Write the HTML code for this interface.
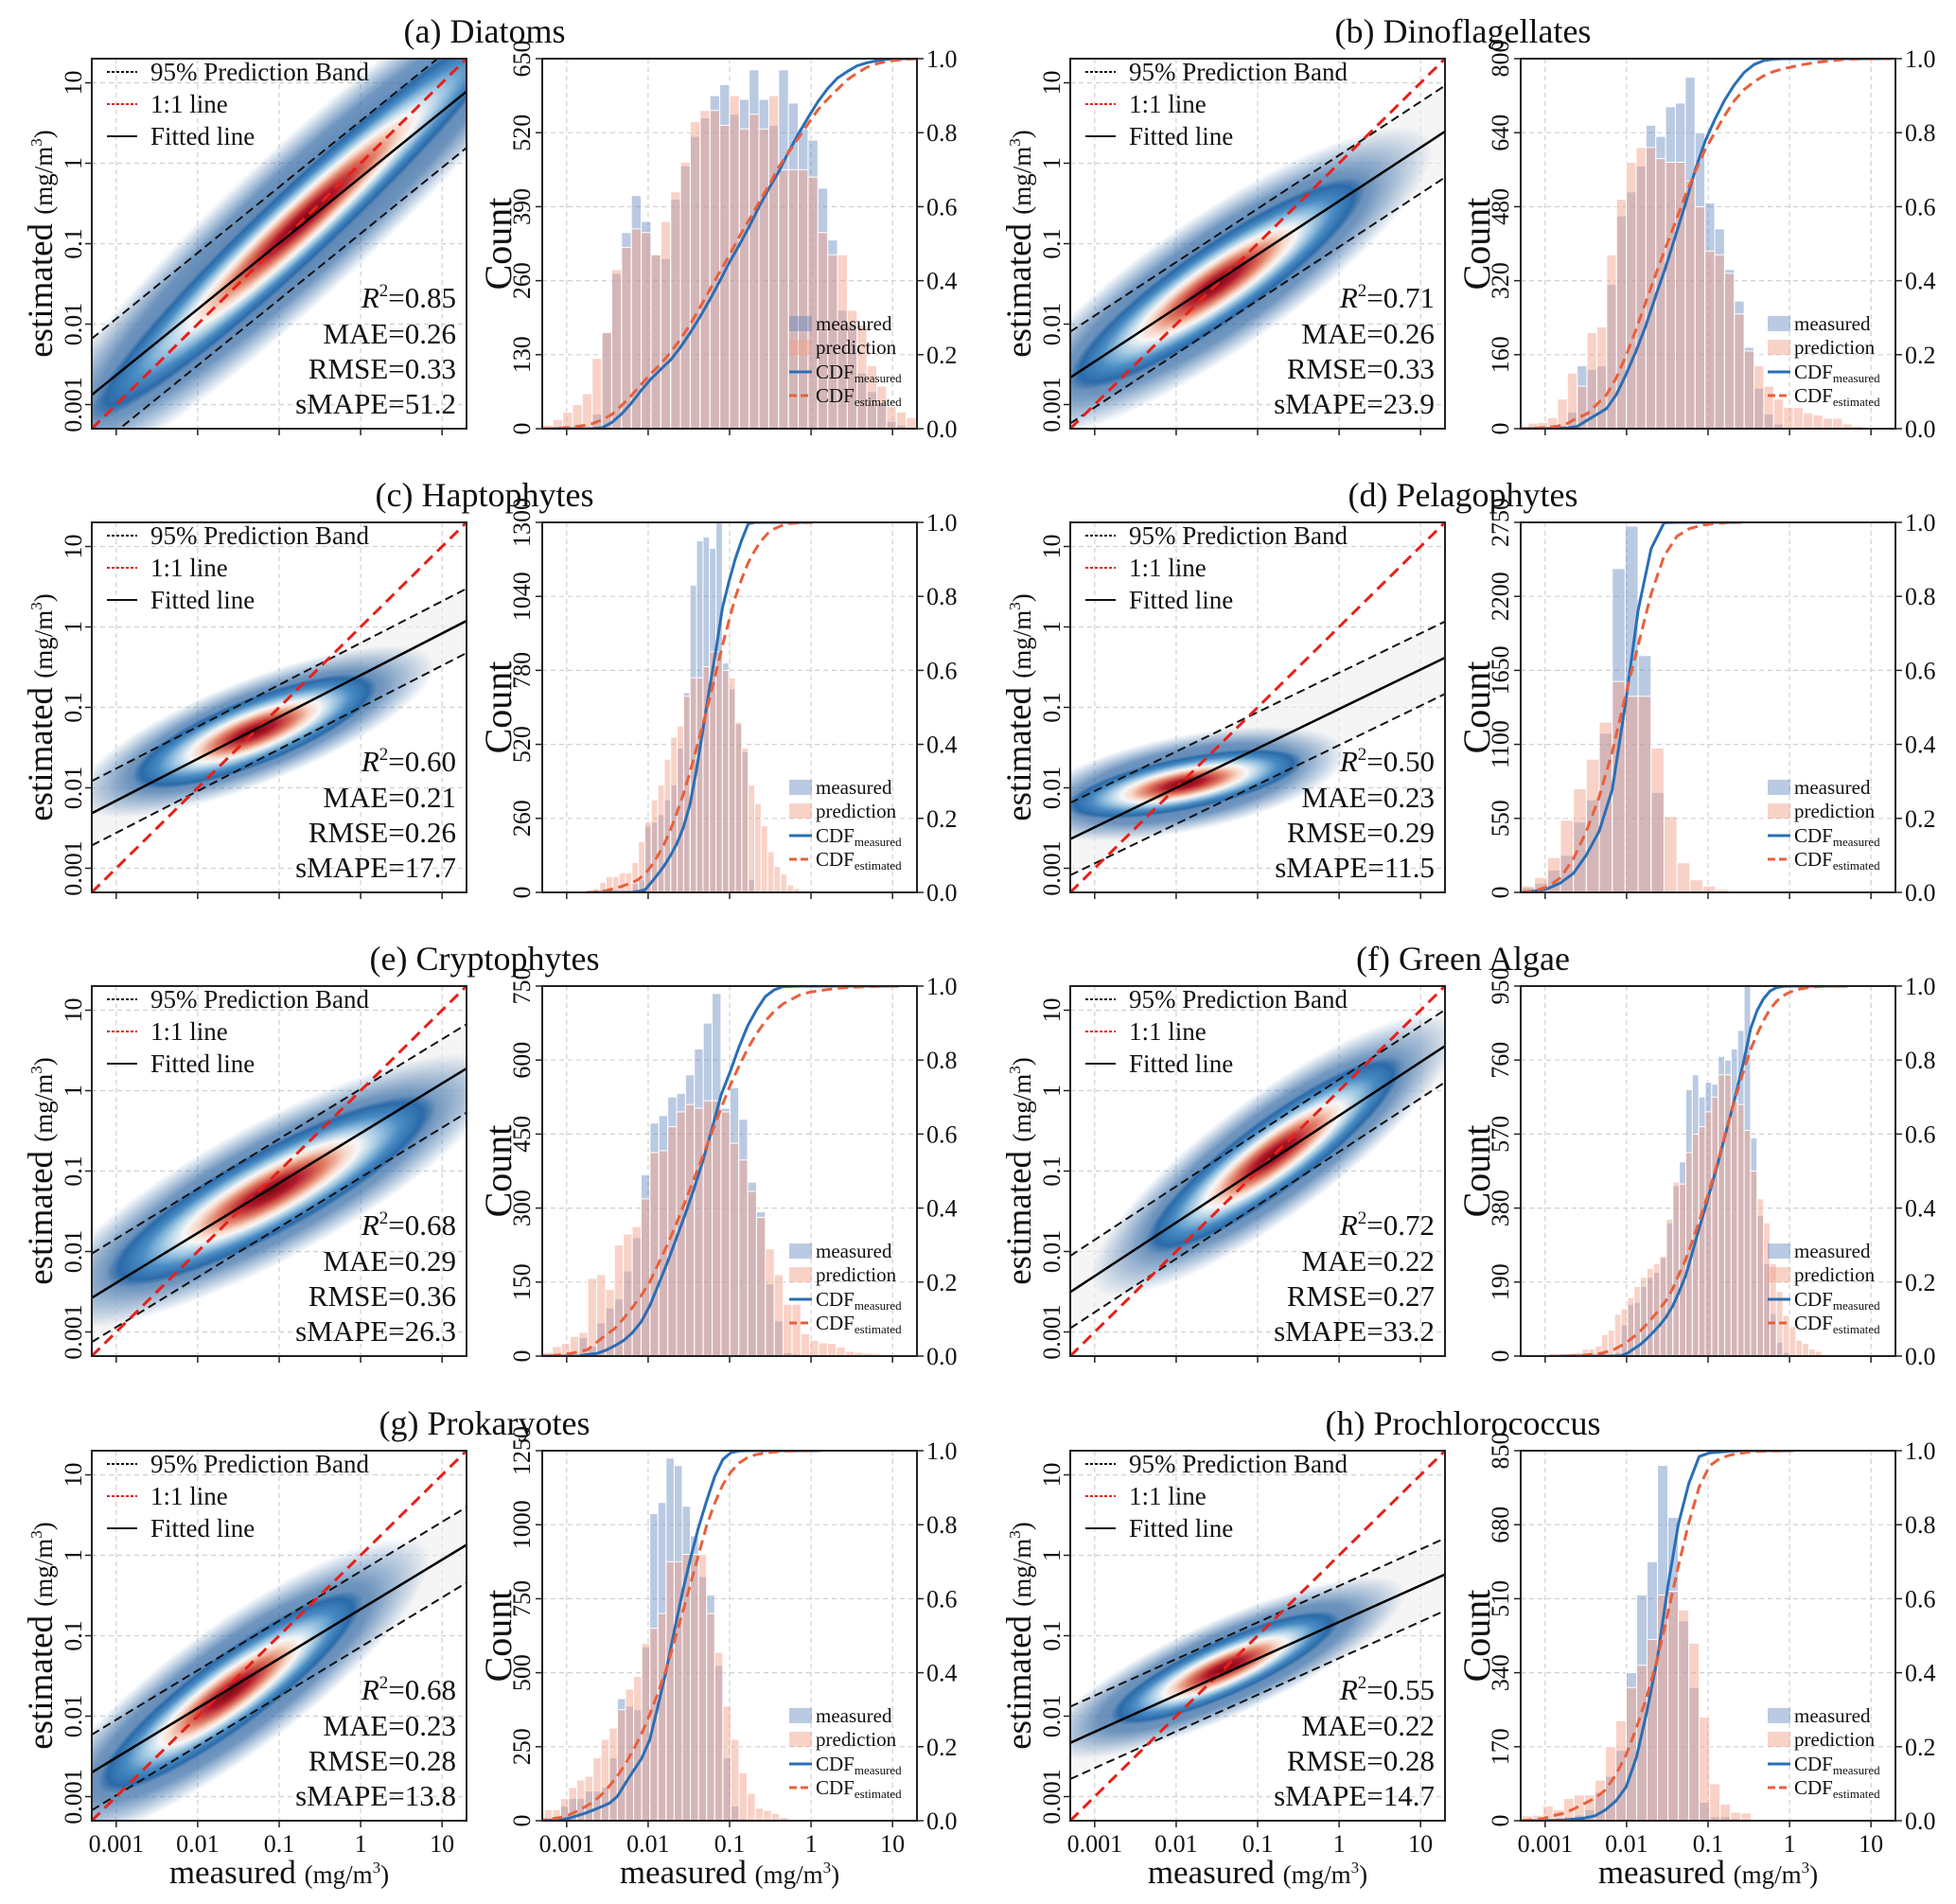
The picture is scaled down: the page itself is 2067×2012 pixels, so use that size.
<!DOCTYPE html>
<html><head><meta charset="utf-8"><title>Phytoplankton estimation figure</title>
<style>
html,body{margin:0;padding:0;background:#fff;}
svg{display:block;font-family:"Liberation Serif","Times New Roman",serif;}
</style></head>
<body>
<svg id="fig" width="2067" height="2012" viewBox="0 0 2067 2012" xmlns="http://www.w3.org/2000/svg">
<defs>
<radialGradient id="coreGrad" cx="0.5" cy="0.5" r="0.5">
<stop offset="0" stop-color="#7a0a0f"/>
<stop offset="0.16" stop-color="#b2182b"/>
<stop offset="0.32" stop-color="#e07a62"/>
<stop offset="0.45" stop-color="#f8d8c8"/>
<stop offset="0.53" stop-color="#f7f7f7"/>
<stop offset="0.64" stop-color="#a8cde5"/>
<stop offset="0.78" stop-color="#4a8cc4"/>
<stop offset="0.92" stop-color="#2a6aa9"/>
<stop offset="1" stop-color="#2a6aa9" stop-opacity="0"/>
</radialGradient>
<radialGradient id="outerGrad" cx="0.5" cy="0.5" r="0.5">
<stop offset="0" stop-color="#2e639e" stop-opacity="0.95"/>
<stop offset="0.7" stop-color="#336aa5" stop-opacity="0.7"/>
<stop offset="1" stop-color="#3a72ac" stop-opacity="0"/>
</radialGradient>
</defs>
</svg>
<script>
// ---------- data ----------
const panelTitles = ["(a) Diatoms","(b) Dinoflagellates","(c) Haptophytes","(d) Pelagophytes","(e) Cryptophytes","(f) Green Algae","(g) Prokaryotes","(h) Prochlorococcus"];
const r2Values = ["0.85","0.71","0.60","0.50","0.68","0.72","0.68","0.55"];
const maeValues = ["0.26","0.26","0.21","0.23","0.29","0.22","0.23","0.22"];
const rmseValues = ["0.33","0.33","0.26","0.29","0.36","0.27","0.28","0.28"];
const smapeValues = ["51.2","23.9","17.7","11.5","26.3","33.2","13.8","14.7"];
const fitSlopes = [0.82,0.665,0.52,0.49,0.62,0.665,0.615,0.455];
const fitIntercepts = [-0.174,-0.47,-0.60,-1.02,-0.53,-0.31,-0.67,-0.83];
const bandHalfWidths = [0.70,0.57,0.40,0.45,0.55,0.45,0.47,0.45];
const cloudCenterX = [-0.7,-1.5,-1.3,-1.9,-1.1,-0.8,-1.6,-1.4];
const cloudCenterY = [-0.7,-1.5,-1.3,-1.95,-1.25,-0.8,-1.7,-1.4];
const cloudSlope = [0.95,0.7,0.4,0.2,0.55,0.75,0.75,0.45];
const cloudMajor = [2.6,1.8,1.5,1.45,2.0,1.55,1.6,1.4];
const cloudMinor = [0.45,0.48,0.42,0.33,0.52,0.45,0.45,0.35];
const outerMajor = [3.6,2.6,2.2,2.0,2.8,2.2,2.4,2.2];
const outerMinor = [0.9,0.85,0.65,0.6,0.85,0.75,0.8,0.6];
const scatterTicks = [0.001,0.01,0.1,1,10];
const scatterTickLabels = ["0.001","0.01","0.1","1","10"];
const histYMax = [650,800,1300,2750,750,950,1250,850];
const histYStep = [130,160,260,550,150,190,250,170];
const cdfTickLabels = ["0.0","0.2","0.4","0.6","0.8","1.0"];
const binCenter0 = [-3.23,-3.27,-2.714,-3.21,-3.34,-2.903,-3.324,-3.221];
const binWidths = [0.1205,0.1206,0.0793,0.159,0.109,0.0795,0.0996,0.128];
// bar heights as fraction of each panel's count axis max
const measuredA = [0,0,0,0,0,.04,.26,.42,.53,.63,.56,.47,.46,.62,.71,.79,.84,.90,.93,.85,.89,.97,.89,.82,.97,.88,.81,.78,.65,.51,.32,.28,.15,.10,.07,.02,.01,0];
const predictedA = [.01,.025,.045,.065,.095,.19,.26,.43,.49,.54,.53,.47,.56,.64,.72,.83,.86,.86,.82,.90,.81,.85,.81,.90,.70,.70,.70,.68,.53,.47,.47,.32,.28,.17,.115,.06,.045,.03];
const measuredB = [0,0,.002,.005,.01,.045,.17,.16,.17,.39,.575,.64,.71,.82,.79,.87,.88,.95,.80,.61,.54,.43,.345,.22,.11,.04,.013,0,0,0,0,0,0,0,0,0,0,0];
const predictedB = [.005,.015,.017,.03,.08,.15,.115,.26,.275,.47,.62,.72,.76,.76,.73,.72,.72,.67,.60,.48,.47,.42,.31,.21,.17,.115,.08,.058,.057,.043,.037,.028,.028,.013,.007,.004,.002,0];
const measuredC = [0,0,0,0,0,0,0,.024,.034,.18,.19,.21,.25,.29,.39,.54,.83,.95,.96,.93,1.0,.62,.55,.455,.38,.035,0,0,0,0,0,0,0,0,0];
const predictedC = [.005,.01,.027,.043,.043,.053,.053,.081,.137,.19,.25,.29,.36,.42,.45,.53,.58,.58,.61,.65,.65,.60,.58,.46,.39,.29,.24,.18,.11,.07,.05,.02,.01,.005,.005];
const measuredD = [.013,.025,.06,.10,.19,.25,.43,.875,.99,.64,.27,.004,0,0,0,0,0];
const predictedD = [.017,.04,.094,.195,.28,.36,.46,.57,.53,.53,.39,.205,.08,.034,.017,.008,.003];
const measuredE = [0,0,0,0,0,.05,.026,.09,.13,.155,.23,.32,.49,.63,.65,.70,.71,.76,.83,.90,.98,.67,.725,.64,.47,.39,.195,.095,.009,.006,0,0,0,0,0,0,0,0,0,0,0];
const predictedE = [.005,.01,.026,.034,.053,.064,.21,.22,.18,.30,.33,.35,.425,.55,.555,.62,.66,.68,.67,.69,.69,.66,.575,.53,.445,.375,.29,.22,.14,.14,.06,.043,.036,.034,.024,.013,.01,.008,.007,.005,.003];
const measuredF = [0,0,0,0,0,0,0,0,0,0,.01,.085,.14,.145,.188,.213,.226,.266,.36,.46,.525,.72,.76,.70,.74,.735,.81,.80,.83,.88,1.0,.59,.38,.25,.115,.038,.01,0,0,0,0,0,0,0,0,0];
const predictedF = [.001,.003,.004,.006,.01,.019,.019,.027,.058,.07,.113,.128,.158,.188,.213,.237,.25,.27,.37,.47,.465,.55,.60,.62,.66,.70,.76,.76,.69,.68,.61,.50,.425,.36,.25,.175,.11,.08,.043,.034,.019,.013,.004,.003,.002,.002];
const measuredG = [.005,.007,.01,.04,.06,.06,.08,.08,.09,.17,.33,.31,.30,.47,.83,.86,.98,.96,.85,.77,.66,.61,.42,.17,.04,.006,0,0,0,0,0,0,0,0,0];
const predictedG = [.02,.03,.03,.06,.09,.11,.12,.17,.22,.25,.30,.356,.39,.48,.52,.56,.70,.70,.72,.72,.72,.56,.455,.31,.22,.13,.074,.034,.028,.02,.009,.004,.002,.002,.001];
const measuredH = [0,0,.005,.005,.01,.015,.03,.077,.12,.19,.40,.61,.70,.96,.82,.54,.36,.05,.011,.011,.006,0,0,0,0,0];
const predictedH = [.013,.015,.04,.03,.06,.07,.07,.11,.20,.27,.36,.42,.49,.61,.62,.57,.48,.28,.10,.045,.023,.021,.004,.003,.003,.002];
const measuredSets = [measuredA,measuredB,measuredC,measuredD,measuredE,measuredF,measuredG,measuredH];
const predictedSets = [predictedA,predictedB,predictedC,predictedD,predictedE,predictedF,predictedG,predictedH];

// ---------- layout ----------
const NS = "http://www.w3.org/2000/svg";
const svg = document.getElementById("fig");
const colX = [0,1034];
const rowY = [62,552,1042,1533];
const SC_L = 97, SC_W = 396, HI_L = 573, HI_W = 396, PH = 391;
const LMIN = -3.3, LMAX = 1.3;

function mk(tag, attrs, parent) {
  const e = document.createElementNS(NS, tag);
  for (const k in attrs) e.setAttribute(k, attrs[k]);
  (parent || svg).appendChild(e);
  return e;
}
function txt(str, attrs, parent) {
  const e = mk("text", attrs, parent);
  e.textContent = str;
  return e;
}

for (let p = 0; p < 8; p++) {
  const col = p % 2, row = Math.floor(p / 2);
  const ox = colX[col], top = rowY[row], bot = top + PH;
  const sl = ox + SC_L, hl = ox + HI_L;
  const xs = v => sl + (v - LMIN) / (LMAX - LMIN) * SC_W;
  const ys = v => bot - (v - LMIN) / (LMAX - LMIN) * PH;
  const xh = v => hl + (v - LMIN) / (LMAX - LMIN) * HI_W;
  const yMax = histYMax[p];
  const yh = c => bot - c / yMax * PH;
  const yc = f => bot - f * PH;

  const g = mk("g", {});
  
  

  const title = txt(panelTitles[p], {x: ox + 512, y: top - 17, "text-anchor": "middle", "font-size": 36, fill: "#111"}, g);
  
  

  // ===== scatter =====
  const sg = mk("g", {}, g);
  
  
  const clip = mk("clipPath", {id: "clipS" + p}, sg);
  mk("rect", {x: sl, y: top, width: SC_W, height: PH}, clip);
  const inner = mk("g", {"clip-path": "url(#clipS" + p + ")"}, sg);
  for (let i = 0; i < scatterTicks.length; i++) {
    const lv = Math.log10(scatterTicks[i]);
    const gx = mk("line", {x1: xs(lv), x2: xs(lv), y1: top, y2: bot, stroke: "#d0d0d0", "stroke-width": 1.2, "stroke-dasharray": "5 4"}, inner);
    
    
    const gy = mk("line", {x1: sl, x2: sl + SC_W, y1: ys(lv), y2: ys(lv), stroke: "#d0d0d0", "stroke-width": 1.2, "stroke-dasharray": "5 4"}, inner);
    
    
  }
  const m = fitSlopes[p], c0 = fitIntercepts[p], bw = bandHalfWidths[p];
  const fy = v => m * v + c0;
  const band = mk("polygon", {points: [
      [xs(LMIN), ys(fy(LMIN) + bw)], [xs(LMAX), ys(fy(LMAX) + bw)],
      [xs(LMAX), ys(fy(LMAX) - bw)], [xs(LMIN), ys(fy(LMIN) - bw)]].map(q => q.join(",")).join(" "),
      fill: "#efefef", "fill-opacity": 0.6}, inner);
  
  
  const pxPerDecX = SC_W / (LMAX - LMIN), pxPerDecY = PH / (LMAX - LMIN);
  const ang = -Math.atan(cloudSlope[p] * pxPerDecY / pxPerDecX) * 180 / Math.PI;
  const ccx = xs(cloudCenterX[p]), ccy = ys(cloudCenterY[p]);
  const dirLen = Math.sqrt(1 + cloudSlope[p] * cloudSlope[p]);
  const outer = mk("ellipse", {cx: ccx, cy: ccy, rx: outerMajor[p] * dirLen * pxPerDecX, ry: outerMinor[p] * pxPerDecY,
    fill: "url(#outerGrad)", transform: "rotate(" + ang + " " + ccx + " " + ccy + ")"}, inner);
  
  
  const core = mk("ellipse", {cx: ccx, cy: ccy, rx: cloudMajor[p] * dirLen * pxPerDecX, ry: cloudMinor[p] * pxPerDecY,
    fill: "url(#coreGrad)", transform: "rotate(" + ang + " " + ccx + " " + ccy + ")"}, inner);
  
  
  const upper = mk("line", {x1: xs(LMIN), y1: ys(fy(LMIN) + bw), x2: xs(LMAX), y2: ys(fy(LMAX) + bw), stroke: "#111", "stroke-width": 2, "stroke-dasharray": "9 5"}, inner);
  
  
  const lower = mk("line", {x1: xs(LMIN), y1: ys(fy(LMIN) - bw), x2: xs(LMAX), y2: ys(fy(LMAX) - bw), stroke: "#111", "stroke-width": 2, "stroke-dasharray": "9 5"}, inner);
  
  
  const one = mk("line", {x1: xs(LMIN), y1: ys(LMIN), x2: xs(LMAX), y2: ys(LMAX), stroke: "#e8201a", "stroke-width": 3, "stroke-dasharray": "12 7"}, inner);
  
  
  const fit = mk("line", {x1: xs(LMIN), y1: ys(fy(LMIN)), x2: xs(LMAX), y2: ys(fy(LMAX)), stroke: "#000", "stroke-width": 2.5}, inner);
  
  
  const sf = mk("rect", {x: sl, y: top, width: SC_W, height: PH, fill: "none", stroke: "#222", "stroke-width": 2}, sg);
  
  
  for (let i = 0; i < scatterTicks.length; i++) {
    const lv = Math.log10(scatterTicks[i]);
    const tx = mk("line", {x1: xs(lv), x2: xs(lv), y1: bot, y2: bot + 7, stroke: "#222", "stroke-width": 1.5}, sg);
    
    
    const ty = mk("line", {x1: sl - 7, x2: sl, y1: ys(lv), y2: ys(lv), stroke: "#222", "stroke-width": 1.5}, sg);
    
    
    const yl = txt(scatterTickLabels[i], {x: sl - 11, y: ys(lv), "text-anchor": "middle", "font-size": 26, fill: "#111",
      transform: "rotate(-90 " + (sl - 11) + " " + ys(lv) + ")"}, sg);
    
    
    if (row === 3) {
      const xl = txt(scatterTickLabels[i], {x: xs(lv), y: bot + 33, "text-anchor": "middle", "font-size": 26, fill: "#111"}, sg);
      
      
    }
  }
  const ylab = txt("", {x: sl - 42, y: top + PH / 2, "text-anchor": "middle", fill: "#111",
    transform: "rotate(-90 " + (sl - 42) + " " + (top + PH / 2) + ")"}, sg);
  
  
  mk("tspan", {"font-size": 37}, ylab).textContent = "estimated ";
  mk("tspan", {"font-size": 27}, ylab).textContent = "(mg/m";
  mk("tspan", {"font-size": 17, dy: -11}, ylab).textContent = "3";
  mk("tspan", {"font-size": 27, dy: 11}, ylab).textContent = ")";
  const lg = mk("g", {}, sg);
  
  
  const legLabels = ["95% Prediction Band", "1:1 line", "Fitted line"];
  const legColors = ["#111", "#e8201a", "#111"];
  const legDash = ["3 2", "3 2", "none"];
  for (let i = 0; i < 3; i++) {
    const cy = top + 14 + i * 34;
    const hl2 = mk("line", {x1: sl + 16, x2: sl + 48, y1: cy, y2: cy, stroke: legColors[i], "stroke-width": 2, "stroke-dasharray": legDash[i]}, lg);
    
    
    const lt = txt(legLabels[i], {x: sl + 62, y: cy + 9, "font-size": 27, fill: "#111"}, lg);
    
    
  }
  const sx = sl + 385;
  const st1 = txt("", {x: sx, y: top + 263, "text-anchor": "end", "font-size": 31, fill: "#111"}, sg);
  
  
  mk("tspan", {"font-style": "italic"}, st1).textContent = "R";
  mk("tspan", {"font-size": 19, dy: -12}, st1).textContent = "2";
  mk("tspan", {dy: 12}, st1).textContent = "=" + r2Values[p];
  const st2 = txt("MAE=" + maeValues[p], {x: sx, y: top + 301, "text-anchor": "end", "font-size": 31, fill: "#111"}, sg);
  
  
  const st3 = txt("RMSE=" + rmseValues[p], {x: sx, y: top + 338, "text-anchor": "end", "font-size": 31, fill: "#111"}, sg);
  
  
  const st4 = txt("sMAPE=" + smapeValues[p], {x: sx, y: top + 375, "text-anchor": "end", "font-size": 31, fill: "#111"}, sg);
  
  

  // ===== histogram =====
  const hg = mk("g", {}, g);
  
  
  const clipH = mk("clipPath", {id: "clipH" + p}, hg);
  mk("rect", {x: hl, y: top, width: HI_W, height: PH}, clipH);
  const hin = mk("g", {"clip-path": "url(#clipH" + p + ")"}, hg);
  for (let i = 0; i < scatterTicks.length; i++) {
    const lv = Math.log10(scatterTicks[i]);
    const gx = mk("line", {x1: xh(lv), x2: xh(lv), y1: top, y2: bot, stroke: "#d0d0d0", "stroke-width": 1.2, "stroke-dasharray": "5 4"}, hin);
    
    
  }
  for (let v = 0; v <= yMax + 0.01; v += histYStep[p]) {
    const gy = mk("line", {x1: hl, x2: hl + HI_W, y1: yh(v), y2: yh(v), stroke: "#d0d0d0", "stroke-width": 1.2, "stroke-dasharray": "5 4"}, hin);
    
    
  }
  const meas = measuredSets[p], pred = predictedSets[p];
  const c0b = binCenter0[p], wb = binWidths[p];
  for (let i = 0; i < meas.length; i++) {
    const cnt = meas[i] * yMax;
    const x0 = xh(c0b + (i - 0.5) * wb), x1 = xh(c0b + (i + 0.5) * wb);
    const r = mk("rect", {x: x0, y: yh(cnt), width: Math.max(0, x1 - x0), height: bot - yh(cnt), fill: "#5b80bd", "fill-opacity": 0.42, stroke: "#fff", "stroke-width": 1}, hin);
    
    
  }
  for (let i = 0; i < pred.length; i++) {
    const cnt = pred[i] * yMax;
    const x0 = xh(c0b + (i - 0.5) * wb), x1 = xh(c0b + (i + 0.5) * wb);
    const r = mk("rect", {x: x0, y: yh(cnt), width: Math.max(0, x1 - x0), height: bot - yh(cnt), fill: "#f2a089", "fill-opacity": 0.48, stroke: "#fff", "stroke-width": 1}, hin);
    
    
  }
  function cdfPts(arr) {
    const tot = arr.reduce((a, b) => a + b, 0);
    let acc = 0;
    const pts = [[xh(c0b - 0.5 * wb), yc(0)]];
    for (let i = 0; i < arr.length; i++) {
      acc += arr[i];
      pts.push([xh(c0b + (i + 0.5) * wb), yc(acc / tot)]);
    }
    return pts.map(q => q[0].toFixed(1) + "," + q[1].toFixed(1)).join(" ");
  }
  const cm = mk("polyline", {points: cdfPts(meas), fill: "none", stroke: "#2a6eb5", "stroke-width": 3, "stroke-linejoin": "round"}, hin);
  
  
  const ce = mk("polyline", {points: cdfPts(pred), fill: "none", stroke: "#e8603c", "stroke-width": 3, "stroke-dasharray": "11 6"}, hin);
  
  
  const hf = mk("rect", {x: hl, y: top, width: HI_W, height: PH, fill: "none", stroke: "#222", "stroke-width": 2}, hg);
  
  
  for (let v = 0; v <= yMax + 0.01; v += histYStep[p]) {
    const t = mk("line", {x1: hl - 7, x2: hl, y1: yh(v), y2: yh(v), stroke: "#222", "stroke-width": 1.5}, hg);
    
    
    const tl = txt(String(Math.round(v)), {x: hl - 13, y: yh(v), "text-anchor": "middle", "font-size": 26, fill: "#111",
      transform: "rotate(-90 " + (hl - 13) + " " + yh(v) + ")"}, hg);
    
    
  }
  const cl = txt("Count", {x: hl - 33, y: top + PH / 2, "text-anchor": "middle", "font-size": 40, fill: "#111",
    transform: "rotate(-90 " + (hl - 33) + " " + (top + PH / 2) + ")"}, hg);
  
  
  for (let i = 0; i < cdfTickLabels.length; i++) {
    const f = parseFloat(cdfTickLabels[i]);
    const t = mk("line", {x1: hl + HI_W, x2: hl + HI_W + 7, y1: yc(f), y2: yc(f), stroke: "#222", "stroke-width": 1.5}, hg);
    
    
    const tl = txt(cdfTickLabels[i], {x: hl + HI_W + 10, y: yc(f) + 9, "font-size": 26, fill: "#111"}, hg);
    
    
  }
  for (let i = 0; i < scatterTicks.length; i++) {
    const lv = Math.log10(scatterTicks[i]);
    const t = mk("line", {x1: xh(lv), x2: xh(lv), y1: bot, y2: bot + 7, stroke: "#222", "stroke-width": 1.5}, hg);
    
    
    if (row === 3) {
      const xl = txt(scatterTickLabels[i], {x: xh(lv), y: bot + 33, "text-anchor": "middle", "font-size": 26, fill: "#111"}, hg);
      
      
    }
  }
  const hlg = mk("g", {}, hg);
  
  
  const lx = hl + 261, ly = top + 280;
  const p1 = mk("rect", {x: lx, y: ly - 8, width: 24, height: 16, fill: "#5b80bd", "fill-opacity": 0.42}, hlg);
  
  
  const t1 = txt("measured", {x: lx + 28, y: ly + 7, "font-size": 21, fill: "#111"}, hlg);
  
  
  const p2 = mk("rect", {x: lx, y: ly + 17, width: 24, height: 16, fill: "#f2a089", "fill-opacity": 0.48}, hlg);
  
  
  const t2 = txt("prediction", {x: lx + 28, y: ly + 32, "font-size": 21, fill: "#111"}, hlg);
  
  
  const l3 = mk("line", {x1: lx, x2: lx + 24, y1: ly + 51, y2: ly + 51, stroke: "#2a6eb5", "stroke-width": 3}, hlg);
  
  
  const t3 = txt("", {x: lx + 28, y: ly + 58, "font-size": 21, fill: "#111"}, hlg);
  
  
  mk("tspan", {}, t3).textContent = "CDF";
  mk("tspan", {"font-size": 13, dy: 4}, t3).textContent = "measured";
  const l4 = mk("line", {x1: lx, x2: lx + 24, y1: ly + 76, y2: ly + 76, stroke: "#e8603c", "stroke-width": 3, "stroke-dasharray": "8 4"}, hlg);
  
  
  const t4 = txt("", {x: lx + 28, y: ly + 83, "font-size": 21, fill: "#111"}, hlg);
  
  
  mk("tspan", {}, t4).textContent = "CDF";
  mk("tspan", {"font-size": 13, dy: 4}, t4).textContent = "estimated";

  if (row === 3) {
    const xs1 = txt("", {x: sl + SC_W / 2, y: bot + 66, "text-anchor": "middle", fill: "#111"}, g);
    
    
    mk("tspan", {"font-size": 35}, xs1).textContent = "measured ";
    mk("tspan", {"font-size": 27}, xs1).textContent = "(mg/m";
    mk("tspan", {"font-size": 17, dy: -11}, xs1).textContent = "3";
    mk("tspan", {"font-size": 27, dy: 11}, xs1).textContent = ")";
    const xs2 = txt("", {x: hl + HI_W / 2, y: bot + 66, "text-anchor": "middle", fill: "#111"}, g);
    
    
    mk("tspan", {"font-size": 35}, xs2).textContent = "measured ";
    mk("tspan", {"font-size": 27}, xs2).textContent = "(mg/m";
    mk("tspan", {"font-size": 17, dy: -11}, xs2).textContent = "3";
    mk("tspan", {"font-size": 27, dy: 11}, xs2).textContent = ")";
  }
}
</script>
</body></html>
